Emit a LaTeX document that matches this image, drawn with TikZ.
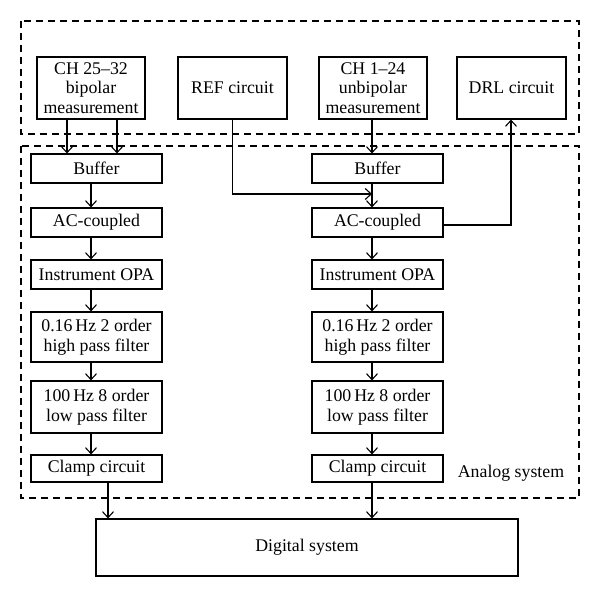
\documentclass[tikz,border=0pt]{standalone}
\usepackage{fontspec}
\setmainfont{Liberation Serif}
\usetikzlibrary{arrows.meta}
\begin{document}
\begin{tikzpicture}[x=1pt,y=-1pt,
  blk/.style={draw,line width=1.1pt,align=center,inner sep=0pt,font=\fontsize{17.8}{19.5}\selectfont},
  arr/.style={line width=1.1pt,-{Straight Barb[length=6pt,width=11pt,line width=1.1pt]}},
  ln/.style={line width=1.1pt},
  dsh/.style={line width=1.2pt,dash pattern=on 7pt off 5pt}]
\useasboundingbox (0,0) rectangle (600,597);
% dashed groups
\draw[dsh] (21,21) rectangle (579,134);
\draw[dsh] (21,146) rectangle (579,498);
% top row
\node[blk,minimum width=108pt,minimum height=62pt] (ch25) at (91,88) {CH 25--32\\bipolar\\measurement};
\node[blk,minimum width=109pt,minimum height=62pt] (ref) at (232.5,88) {REF circuit};
\node[blk,minimum width=108pt,minimum height=62pt] (ch1) at (373,88) {CH 1--24\\unbipolar\\measurement};
\node[blk,minimum width=109pt,minimum height=62pt] (drl) at (511.5,88) {DRL circuit};
% left column
\node[blk,minimum width=131pt,minimum height=29pt] (bufL) at (96.5,168.5) {Buffer};
\node[blk,minimum width=131pt,minimum height=29pt] (acL) at (96.5,222.5) {AC-coupled};
\node[blk,minimum width=131pt,minimum height=29pt] (opaL) at (96.5,274.5) {Instrument OPA};
\node[blk,minimum width=131pt,minimum height=50pt] (hpL) at (96.5,337) {0.16\,Hz 2 order\\high pass filter};
\node[blk,minimum width=131pt,minimum height=52pt] (lpL) at (96.5,407) {100\,Hz 8 order\\low pass filter};
\node[blk,minimum width=131pt,minimum height=27pt] (clL) at (96.5,468.5) {Clamp circuit};
% right column
\node[blk,minimum width=131pt,minimum height=29pt] (bufR) at (377.5,168.5) {Buffer};
\node[blk,minimum width=131pt,minimum height=29pt] (acR) at (377.5,222.5) {AC-coupled};
\node[blk,minimum width=131pt,minimum height=29pt] (opaR) at (377.5,274.5) {Instrument OPA};
\node[blk,minimum width=131pt,minimum height=50pt] (hpR) at (377.5,337) {0.16\,Hz 2 order\\high pass filter};
\node[blk,minimum width=131pt,minimum height=52pt] (lpR) at (377.5,407) {100\,Hz 8 order\\low pass filter};
\node[blk,minimum width=131pt,minimum height=27pt] (clR) at (377.5,468.5) {Clamp circuit};
% digital
\node[blk,minimum width=422pt,minimum height=57pt] (dig) at (307,547.5) {Digital system};
\node[font=\fontsize{17.8}{19.5}\selectfont,inner sep=0pt] (alab) at (511,473) {Analog system};
% x positions
\coordinate (xa) at (67,0);
\coordinate (xb) at (117,0);
\coordinate (xl) at (91,0);
\coordinate (xc) at (108,0);
\coordinate (xr) at (372,0);
\coordinate (xd) at (511,0);
\coordinate (yref) at (0,194);
% arrows
\draw[arr] (ch25.south -| xa) -- (bufL.north -| xa);
\draw[arr] (ch25.south -| xb) -- (bufL.north -| xb);
\draw[arr] (bufL.south -| xl) -- (acL.north -| xl);
\draw[arr] (acL.south -| xl) -- (opaL.north -| xl);
\draw[arr] (opaL.south -| xl) -- (hpL.north -| xl);
\draw[arr] (hpL.south -| xl) -- (lpL.north -| xl);
\draw[arr] (lpL.south -| xl) -- (clL.north -| xl);
\draw[arr] (clL.south -| xc) -- (dig.north -| xc);
\draw[arr] (ch1.south -| xr) -- (bufR.north -| xr);
\draw[arr] (bufR.south -| xr) -- (acR.north -| xr);
\draw[arr] (acR.south -| xr) -- (opaR.north -| xr);
\draw[arr] (opaR.south -| xr) -- (hpR.north -| xr);
\draw[arr] (hpR.south -| xr) -- (lpR.north -| xr);
\draw[arr] (lpR.south -| xr) -- (clR.north -| xr);
\draw[arr] (clR.south -| xr) -- (dig.north -| xr);
\draw[arr] (ref.south) |- (xr |- yref);
\draw[arr] (acR.east |- 0,225) -| (drl.south -| xd);
\end{tikzpicture}
\end{document}
